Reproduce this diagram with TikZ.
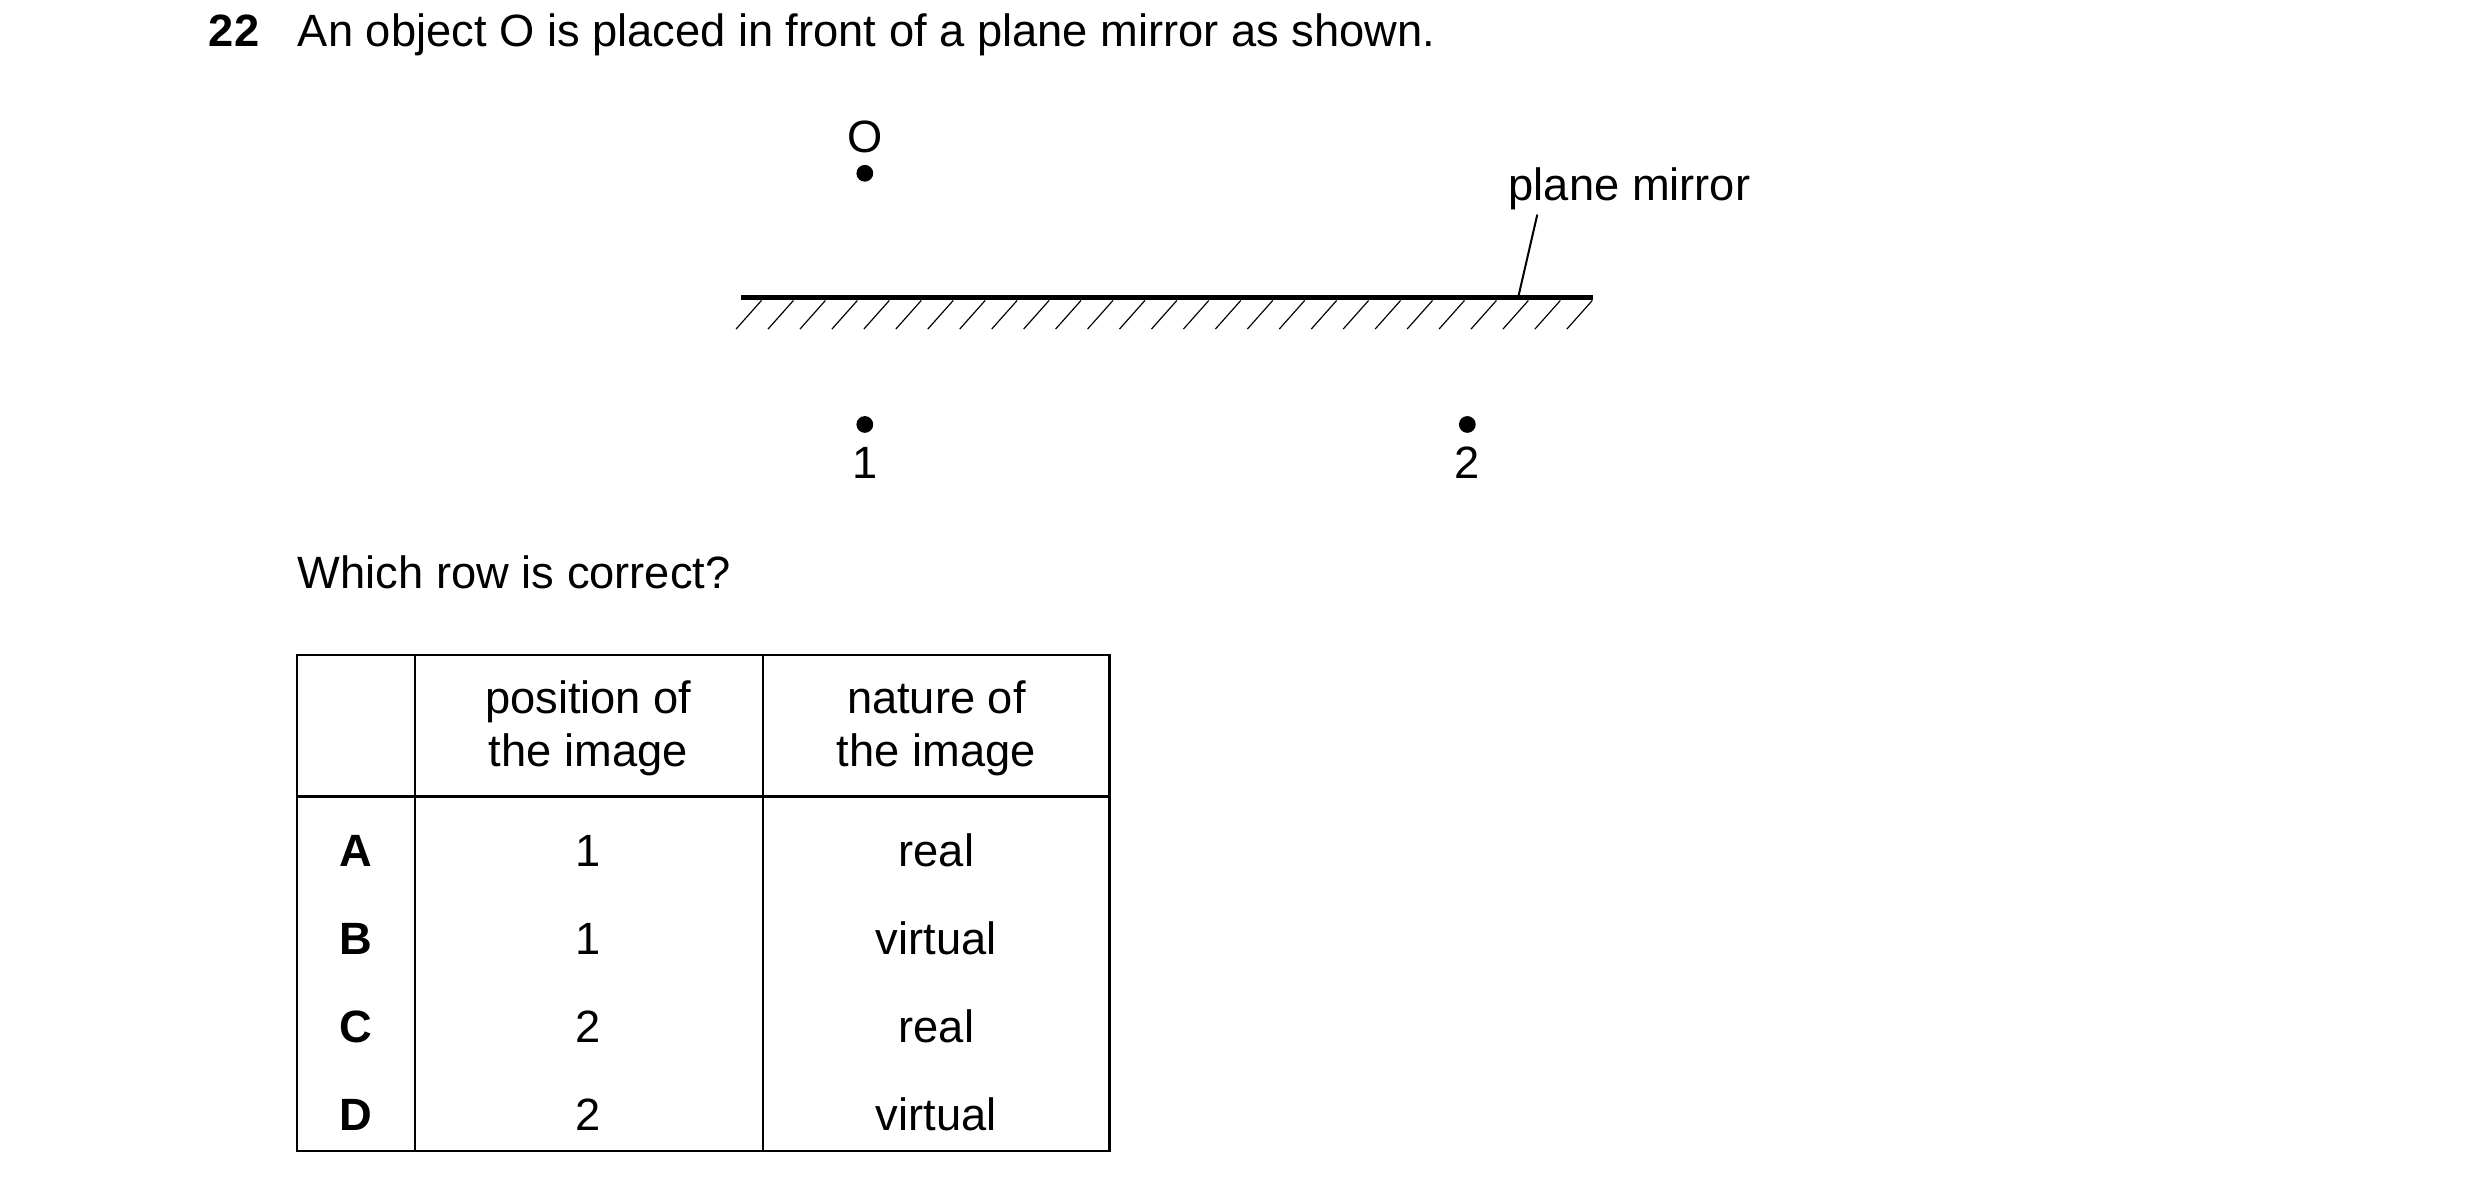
\documentclass[tikz,border=0pt]{standalone}
\usepackage{fontspec}
\setmainfont{Liberation Sans}
\usetikzlibrary{positioning}
\tikzset{
	txt/.style={font=\fontsize{13.5}{16}\selectfont, inner sep=0pt},
	dot/.style={circle, fill=black, inner sep=0pt, minimum size=5pt},
	hatch/.style={line width=0.35pt},
}
\begin{document}
\begin{tikzpicture}[x=0.016667cm,y=-0.016667cm]
	\useasboundingbox (0,0) rectangle (1560,746);
	% question
	\node[txt, anchor=base west, font=\fontsize{13.5}{16}\bfseries] (num) at (131,29) {22};
	\node[txt, anchor=base west] (q) at (187,29) {An object O is placed in front of a plane mirror as shown.};
	% object and images
	\node[dot] (O) at (544,109) {};
	\node[txt, anchor=base] (Olab) at (544,96) {O};
	\node[dot] (I1) at (544,267) {};
	\node[dot] (I2) at (923,267) {};
	\node[txt, anchor=base] (l1) at (544,301) {1};
	\node[txt, anchor=base] (l2) at (923,301) {2};
	% mirror
	\coordinate (mL) at (466,187);
	\coordinate (mR) at (1002,187);
	\draw[line width=1.6pt] (mL) -- (mR);
	\foreach \i in {0,...,26}
		\draw[hatch] (479+20.1*\i,189) -- ++(-16,18);
	\node[txt, anchor=base] (mlab) at (1025,126) {plane mirror};
	\coordinate (mpt) at (955,187);
	\draw[line width=0.6pt] (mpt) -- (967,135);
	% table
	\node[txt, anchor=base west] (which) at (187,370) {Which row is correct?};
	\draw[line width=0.7pt] (187,412) rectangle (698,724);
	\draw[line width=0.7pt] (187,501) -- (698,501);
	\draw[line width=0.7pt] (261,412) -- (261,724);
	\draw[line width=0.7pt] (480,412) -- (480,724);
	\node[txt, anchor=base] (h1a) at (370,449) {position of};
	\node[txt, anchor=base] (h1b) at (370,482) {the image};
	\node[txt, anchor=base] (h2a) at (589,449) {nature of};
	\node[txt, anchor=base] (h2b) at (589,482) {the image};
	\foreach \r/\p/\n [count=\k from 0] in {A/1/real, B/1/virtual, C/2/real, D/2/virtual} {
		\node[txt, anchor=base, font=\fontsize{13.5}{16}\bfseries] (r\r) at (224,545+55.3*\k) {\r};
		\node[txt, anchor=base] (p\r) at (370,545+55.3*\k) {\p};
		\node[txt, anchor=base] (n\r) at (589,545+55.3*\k) {\n};
	}
\end{tikzpicture}
\end{document}
